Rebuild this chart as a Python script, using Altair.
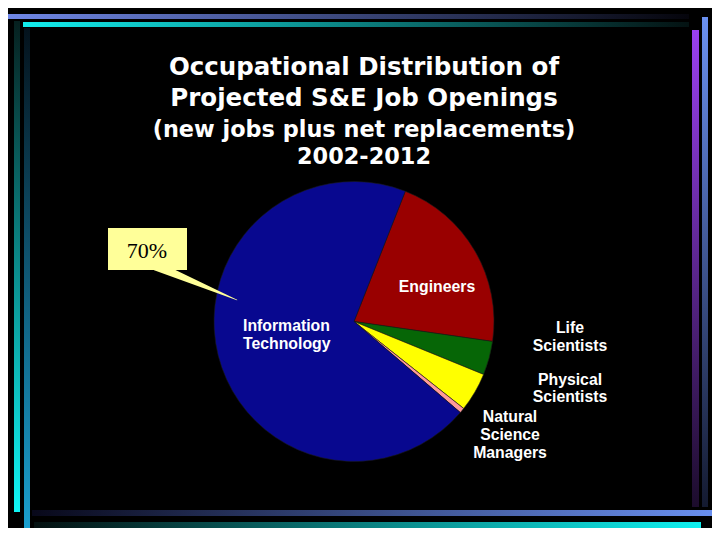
import math
import altair as alt
import pandas as pd

# ---------------- data ----------------
categories = ["Engineers", "Life Scientists", "Physical Scientists",
              "Natural Science Managers", "Information Technology"]
shares = [21.3, 3.9, 4.5, 0.6, 69.7]
slice_colors = ["#990000", "#066606", "#ffff00", "#ff9a9a", "#08088f"]
start_deg = 21.5

title_lines = ["Occupational Distribution of", "Projected S&E Job Openings"]
title_y = [75, 106]
subtitle_lines = ["(new jobs plus net replacements)", "2002-2012"]
subtitle_y = [137, 164]
title_x = 364

label_center_text = ["Engineers", "Life", "Scientists", "Physical", "Scientists",
                     "Natural", "Science", "Managers"]
label_center_x = [437, 570, 570, 570, 570, 510, 510, 510]
label_center_y = [292, 333, 351, 385, 402, 422, 440, 458]
label_left_text = ["Information", "Technology"]
label_left_x = [243, 243]
label_left_y = [331, 349]

callout_text = ["70%"]
callout_box = [108, 187, 228, 270]
callout_text_xy = [147, 258]
pointer_x = [156, 237]
pointer_y = [265.8, 300]
pointer_w = [9.6, 0.6]

bar_x0 = [5, 23, 14, 24, 692, 702, 32, 34]
bar_x1 = [689, 689, 20, 30, 699, 708, 716, 701]
bar_y0 = [14, 22, 21, 28, 30, 17, 510, 522]
bar_y1 = [19, 27, 512, 532, 507, 507, 516, 528]
bar_c0 = ["#7088e8", "#12eeee", "#06201f", "#04121c", "#9a40f0", "#6a90f0", "#08081a", "#041010"]
bar_c1 = ["#05050c", "#041212", "#10f6f6", "#1aa0d0", "#1c0c2c", "#141a30", "#6a90f0", "#10f0f0"]
bar_dir = ["h", "h", "v", "v", "v", "v", "h", "h"]

# ---------------- layout ----------------
W, H = 704, 520
xs = alt.Scale(domain=[8, 712], range=[0, W])
ys = alt.Scale(domain=[8, 528], range=[0, H])
cx, cy, R = 354 - 8, 321.5 - 8, 140


def X(f):
    return alt.X(f, type="quantitative", scale=xs, axis=None)


def Y(f):
    return alt.Y(f, type="quantitative", scale=ys, axis=None)


layers = []

# decorative gradient bars
for i in range(len(bar_x0)):
    if bar_dir[i] == "h":
        g = dict(x1=0, x2=1, y1=0, y2=0)
    else:
        g = dict(x1=0, x2=0, y1=0, y2=1)
    grad = alt.LinearGradient(
        gradient="linear",
        stops=[alt.GradientStop(color=bar_c0[i], offset=0),
               alt.GradientStop(color=bar_c1[i], offset=1)],
        **g)
    df = pd.DataFrame({"x": [bar_x0[i]], "x2": [bar_x1[i]],
                       "y": [bar_y0[i]], "y2": [bar_y1[i]]})
    layers.append(
        alt.Chart(df).mark_rect(fill=grad, strokeWidth=0).encode(
            x=X("x"), x2="x2", y=Y("y"), y2="y2"))

# titles
tdf = pd.DataFrame({"t": title_lines, "x": [title_x] * 2, "y": title_y})
layers.append(alt.Chart(tdf).mark_text(
    font="DejaVu Sans", fontWeight="bold", fontSize=24.5, color="white",
    align="center", baseline="alphabetic").encode(x=X("x"), y=Y("y"), text="t:N"))
sdf = pd.DataFrame({"t": subtitle_lines, "x": [title_x] * 2, "y": subtitle_y})
layers.append(alt.Chart(sdf).mark_text(
    font="DejaVu Sans", fontWeight="bold", fontSize=22.4, color="white",
    align="center", baseline="alphabetic").encode(x=X("x"), y=Y("y"), text="t:N"))

# pie
pdf = pd.DataFrame({"cat": categories, "v": shares, "ord": list(range(len(categories)))})
a0 = math.radians(start_deg)
layers.append(alt.Chart(pdf).mark_arc(
    radius=R, x=cx, y=cy, stroke="#1a1a1a", strokeWidth=0.6).encode(
    theta=alt.Theta("v:Q", stack=True, scale=alt.Scale(range=[a0, a0 + 2 * math.pi])),
    color=alt.Color("cat:N", scale=alt.Scale(domain=categories, range=slice_colors), legend=None),
    order=alt.Order("ord:Q")))

# slice labels
ldf = pd.DataFrame({"t": label_center_text, "x": label_center_x, "y": label_center_y})
layers.append(alt.Chart(ldf).mark_text(
    font="Liberation Sans", fontWeight="bold", fontSize=15.8, color="white",
    align="center", baseline="alphabetic").encode(x=X("x"), y=Y("y"), text="t:N"))
ldf2 = pd.DataFrame({"t": label_left_text, "x": label_left_x, "y": label_left_y})
layers.append(alt.Chart(ldf2).mark_text(
    font="Liberation Sans", fontWeight="bold", fontSize=15.8, color="white",
    align="left", baseline="alphabetic").encode(x=X("x"), y=Y("y"), text="t:N"))

# callout
pdf2 = pd.DataFrame({"x": pointer_x, "y": pointer_y, "w": pointer_w, "o": [0, 1]})
layers.append(alt.Chart(pdf2).mark_trail(color="#ffff99").encode(
    x=X("x"), y=Y("y"), size=alt.Size("w:Q", scale=None, legend=None), order="o:Q"))
bdf = pd.DataFrame({"x": [callout_box[0]], "x2": [callout_box[1]],
                    "y": [callout_box[2]], "y2": [callout_box[3]]})
layers.append(alt.Chart(bdf).mark_rect(fill="#ffff99", strokeWidth=0).encode(
    x=X("x"), x2="x2", y=Y("y"), y2="y2"))
cdf = pd.DataFrame({"t": callout_text, "x": [callout_text_xy[0]], "y": [callout_text_xy[1]]})
layers.append(alt.Chart(cdf).mark_text(
    font="Liberation Serif", fontSize=22, color="black",
    align="center", baseline="alphabetic").encode(x=X("x"), y=Y("y"), text="t:N"))

chart = alt.layer(*layers).properties(
    width=W, height=H, background="black", padding=0,
    autosize=alt.AutoSizeParams(type="none"),
).configure_view(stroke=None)

chart.save("out.html", embed_options={"renderer": "svg", "actions": False})
